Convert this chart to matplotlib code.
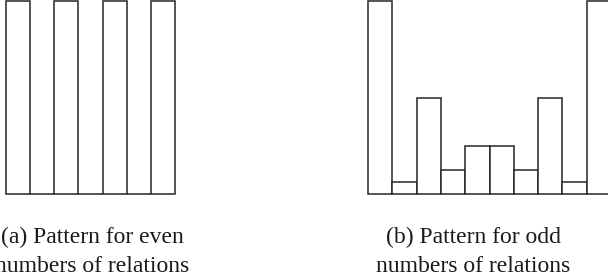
import matplotlib
matplotlib.use("Agg")
import matplotlib.pyplot as plt

# Data
even_values = [1, 0, 1, 0, 1, 0, 1]
odd_values = [1, 0.0625, 0.5, 0.125, 0.25, 0.25, 0.125, 0.5, 0.0625, 1]
caption_a = ["(a) Pattern for even", "numbers of relations"]
caption_b = ["(b) Pattern for odd", "numbers of relations"]

W, H = 608, 280
fig = plt.figure(figsize=(W / 100, H / 100), dpi=100)
edge = "#262626"

def make_axes(x0, x1, nbars):
    ax = fig.add_axes([x0 / W, (H - 194) / H, (x1 - x0) / W, 193 / H])
    ax.set_xlim(0, nbars)
    ax.set_ylim(0, 1)
    ax.axis("off")
    return ax

ax1 = make_axes(6, 175, len(even_values))
ax1.bar(range(len(even_values)), even_values, width=1, align="edge",
        facecolor="white", edgecolor=edge, linewidth=1.1, clip_on=False)

ax2 = make_axes(368, 611, len(odd_values))
ax2.bar(range(len(odd_values)), odd_values, width=1, align="edge",
        facecolor="white", edgecolor=edge, linewidth=1.1, clip_on=False)

font = dict(family="Liberation Serif", size=17, color="#1a1a1a",
            ha="center", va="baseline")
for cx, lines in ((92, caption_a), (473, caption_b)):
    fig.text(cx / W, 1 - 243.5 / H, lines[0], **font)
    fig.text(cx / W, 1 - 272.5 / H, lines[1], **font)

fig.savefig("out.png", dpi=100)
